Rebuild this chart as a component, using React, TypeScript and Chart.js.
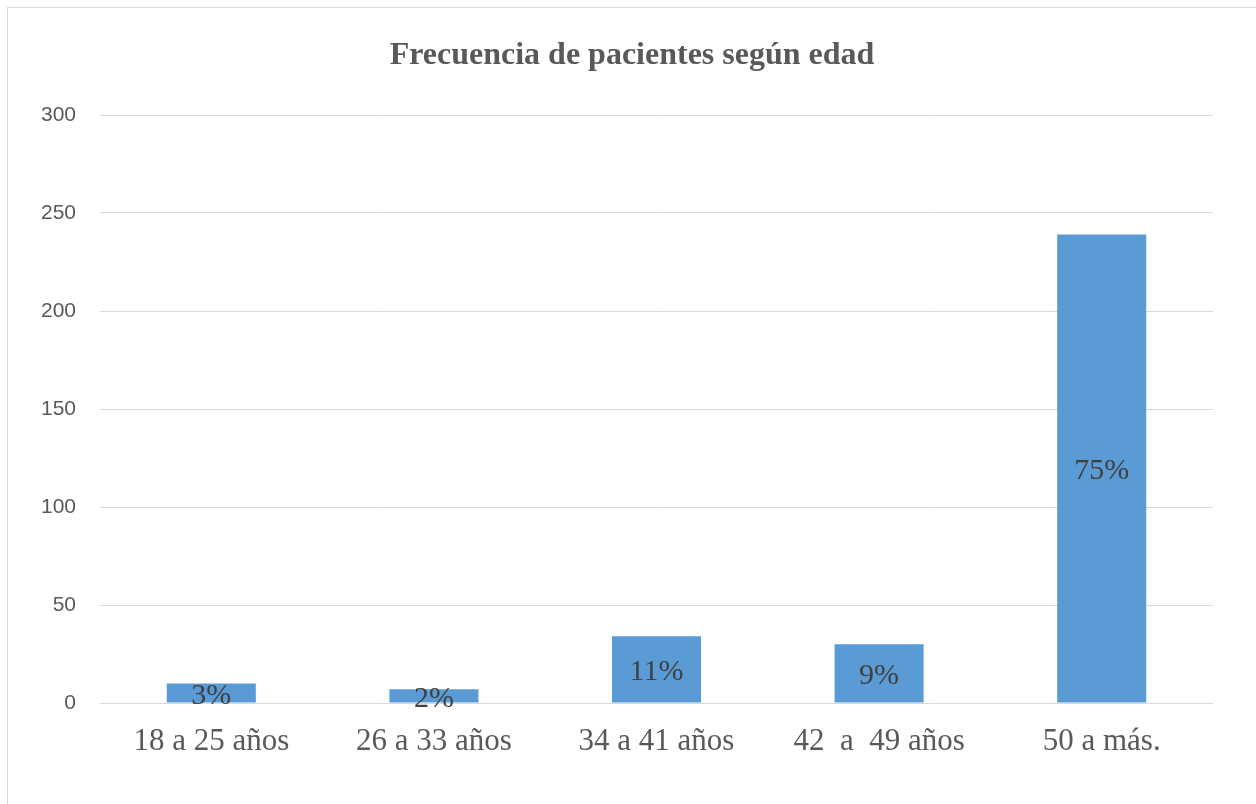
import React, { useEffect, useRef } from "react";
import { Chart, registerables } from "chart.js";

Chart.register(...registerables);

const titleText = "Frecuencia de pacientes según edad";
const categories = ["18 a 25 años", "26 a 33 años", "34 a 41 años", "42  a  49 años", "50 a más."];
const frequencies = [10, 7, 34, 30, 239];
const percentLabels = ["3%", "2%", "11%", "9%", "75%"];
const yMin = 0;
const yMax = 300;
const yStep = 50;

const percentPlugin = {
  id: "percentLabels",
  afterDatasetsDraw(chart: any) {
    const ctx = chart.ctx;
    const meta = chart.getDatasetMeta(0);
    ctx.save();
    ctx.font = "30px 'Liberation Serif', 'Times New Roman', serif";
    ctx.fillStyle = "#404040";
    ctx.textAlign = "center";
    ctx.textBaseline = "middle";
    meta.data.forEach((bar: any, i: number) => {
      const p = bar.getProps(["x", "y", "base"], true);
      ctx.fillText(percentLabels[i], p.x, (p.y + p.base) / 2 + 3);
    });
    ctx.restore();
  },
};

const titlePlugin = {
  id: "centeredTitle",
  afterDraw(chart: any) {
    const ctx = chart.ctx;
    ctx.save();
    ctx.font = "bold 32px 'Liberation Serif', 'Times New Roman', serif";
    ctx.fillStyle = "#595959";
    ctx.textAlign = "center";
    ctx.textBaseline = "middle";
    ctx.fillText(titleText, chart.width / 2 + 4, 56);
    ctx.restore();
  },
};

export default function App() {
  const ref = useRef<HTMLCanvasElement | null>(null);

  useEffect(() => {
    if (!ref.current) return;
    const chart = new Chart(ref.current, {
      type: "bar",
      data: {
        labels: categories,
        datasets: [
          {
            data: frequencies,
            backgroundColor: "#5B9BD5",
            borderWidth: 0,
            barPercentage: 0.4,
            categoryPercentage: 1,
          },
        ],
      },
      options: {
        responsive: false,
        animation: false,
        layout: { padding: { left: 0, right: 43, top: 115, bottom: 0 } },
        plugins: {
          legend: { display: false },
          tooltip: { enabled: false },
          title: { display: false },
        },
        scales: {
          x: {
            grid: { display: false },
            border: { display: false },
            ticks: {
              color: "#595959",
              font: { family: "'Liberation Serif', 'Times New Roman', serif", size: 31 },
              padding: 12,
              maxRotation: 0,
              autoSkip: false,
            },
            afterFit(scale: any) {
              scale.height = 101;
            },
          },
          y: {
            min: yMin,
            max: yMax,
            grid: { color: "#d9d9d9", lineWidth: 1, drawTicks: false },
            border: { display: false },
            ticks: {
              stepSize: yStep,
              color: "#595959",
              font: { family: "'Liberation Sans', Arial, sans-serif", size: 21 },
              padding: 24,
            },
            afterFit(scale: any) {
              scale.width = 100;
            },
          },
        },
      },
      plugins: [percentPlugin, titlePlugin],
    });
    return () => chart.destroy();
  }, []);

  return (
    <div
      style={{
        position: "absolute",
        left: 0,
        top: 0,
        width: 1256,
        height: 804,
        overflow: "hidden",
        background: "#ffffff",
      }}
    >
      <div
        style={{
          position: "absolute",
          left: 7,
          top: 7,
          width: 1260,
          height: 810,
          border: "1px solid #d9d9d9",
        }}
      />
      <canvas ref={ref} width={1256} height={804} style={{ position: "absolute", left: 0, top: 0 }} />
    </div>
  );
}
